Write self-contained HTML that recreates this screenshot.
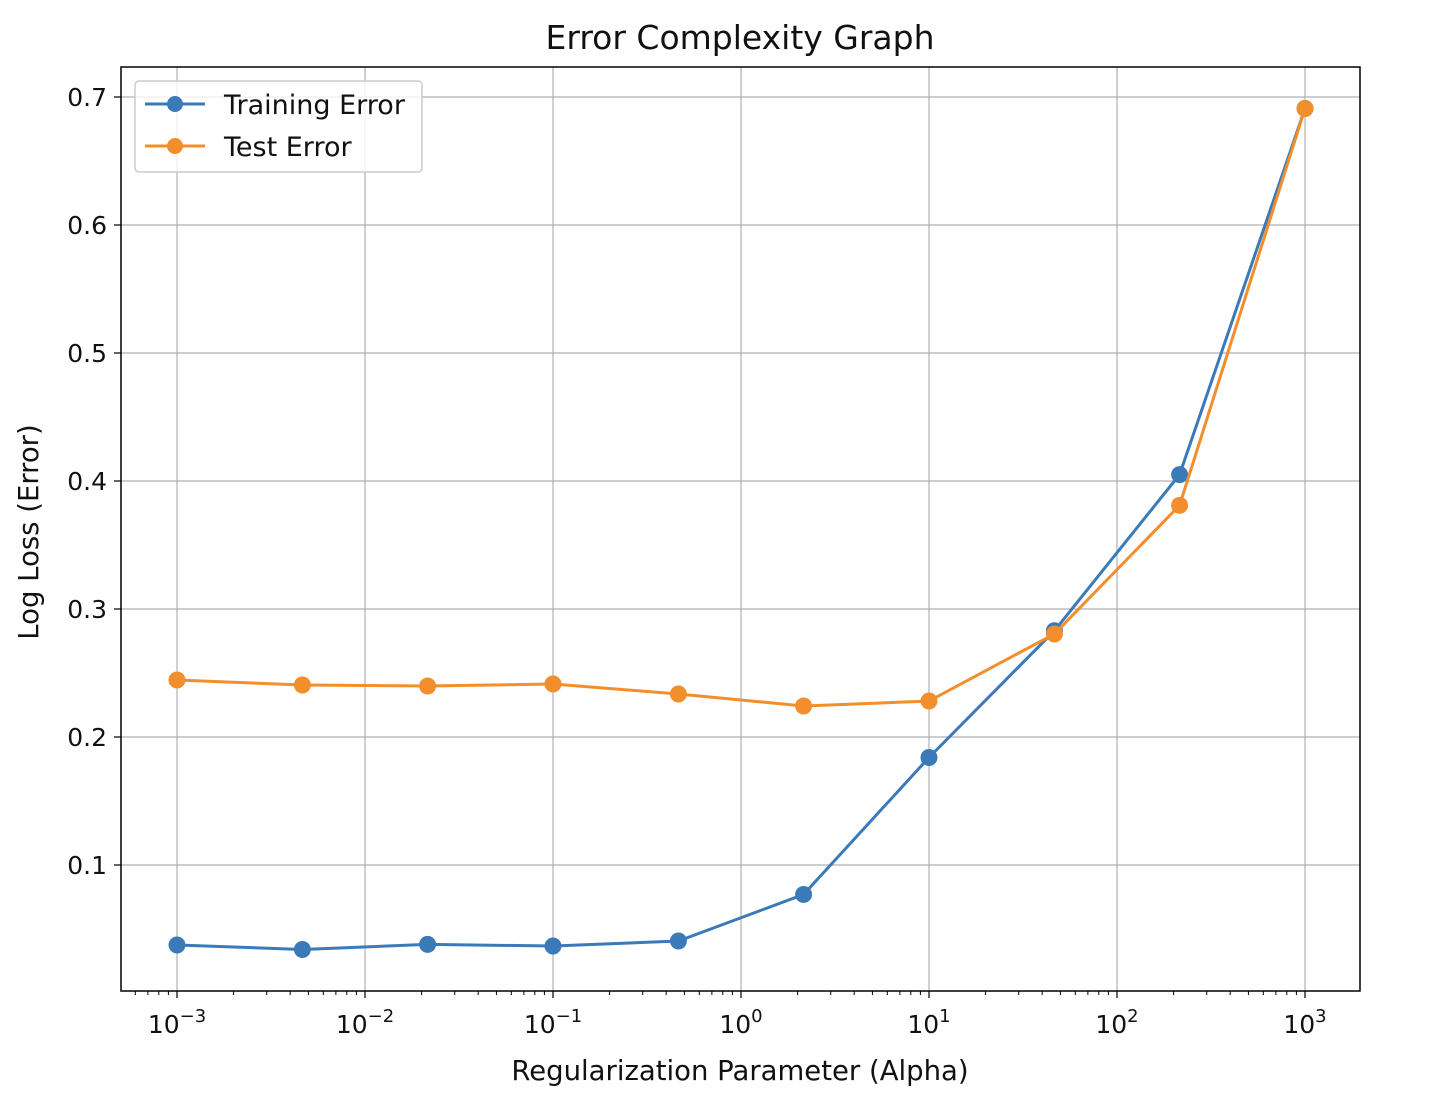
<!DOCTYPE html>
<html><head><meta charset="utf-8"><style>
html,body{margin:0;padding:0;background:#fff;}
svg{display:block;font-family:"DejaVu Sans","Liberation Sans",sans-serif;}
</style></head><body>
<svg id="chart" width="1440" height="1110" viewBox="0 0 1440 1110" xmlns="http://www.w3.org/2000/svg">
<text x="740" y="49" font-size="33" text-anchor="middle" fill="#111">Error Complexity Graph</text>
<text x="740" y="1080" font-size="27.5" text-anchor="middle" fill="#111">Regularization Parameter (Alpha)</text>
<text x="0" y="0" font-size="27.5" text-anchor="middle" fill="#111" transform="translate(38,532) rotate(-90)">Log Loss (Error)</text>
<g id="grid"></g><g id="axes"></g><g id="series"></g>
<rect x="121" y="67" width="1239" height="924" fill="none" stroke="#000" stroke-width="1.5"/>
<g>
<rect x="135" y="81" width="287" height="91" rx="4" fill="#fff" fill-opacity="0.8" stroke="#ccc" stroke-width="1.5"/>
<g>
<line x1="145" y1="104" x2="205" y2="104" stroke="#3a7ab8" stroke-width="3"/><circle cx="175" cy="104" r="8" fill="#3a7ab8"/>
<text x="224" y="114" font-size="27" fill="#111">Training Error</text></g>
<g>
<line x1="145" y1="146" x2="205" y2="146" stroke="#f28e2b" stroke-width="3"/><circle cx="175" cy="146" r="8" fill="#f28e2b"/>
<text x="224" y="156" font-size="27" fill="#111">Test Error</text></g>
</g>
</svg>
<script>
const alphaExponents=[-3,-2.333,-1.667,-1,-0.333,0.333,1,1.667,2.333,3];
const trainingError=[0.0375,0.034,0.038,0.0367,0.0406,0.077,0.184,0.283,0.405,0.691];
const testError=[0.2445,0.2406,0.2398,0.2414,0.2336,0.2242,0.2281,0.2805,0.381,0.691];
const yTicks=[0.1,0.2,0.3,0.4,0.5,0.6,0.7];
const yTickLabels=["0.1","0.2","0.3","0.4","0.5","0.6","0.7"];
const xDecades=[-3,-2,-1,0,1,2,3];
const NS="http://www.w3.org/2000/svg";
const L=121,R=1360,T=67,B=991;
function xs(e){return 741+e*188;}
function ys(v){return 993-v*1280;}
function mk(tag,attrs,parent){const el=document.createElementNS(NS,tag);for(const k in attrs)el.setAttribute(k,attrs[k]);parent.appendChild(el);return el;}
const grid=document.getElementById('grid'),axes=document.getElementById('axes'),series=document.getElementById('series');
yTicks.forEach((v,i)=>{
 const g=mk('line',{x1:L,x2:R,y1:ys(v),y2:ys(v),stroke:'#b0b0b0','stroke-width':1.2},grid);
 
 
 mk('line',{x1:L-7,x2:L,y1:ys(v),y2:ys(v),stroke:'#000','stroke-width':1.2},axes);
 const t=mk('text',{x:L-14,y:ys(v)+9,'font-size':25,'text-anchor':'end',fill:'#111'},axes);
 t.textContent=yTickLabels[i];
 
 
});
xDecades.forEach(d=>{
 const x=xs(d);
 const g=mk('line',{x1:x,x2:x,y1:T,y2:B,stroke:'#b0b0b0','stroke-width':1.2},grid);
 
 
 mk('line',{x1:x,x2:x,y1:B,y2:B+7,stroke:'#000','stroke-width':1.2},axes);
 const t=mk('text',{x:x,y:B+42,'font-size':25,'text-anchor':'middle',fill:'#111'},axes);
 
 
 const a=mk('tspan',{},t);a.textContent='10';
 const s=mk('tspan',{dy:-11,'font-size':18},t);s.textContent=(d<0?'\u2212'+(-d):String(d));
});
for(let d=-4;d<=3;d++){for(let m=2;m<=9;m++){const x=xs(d+Math.log10(m));if(x>L&&x<R)mk('line',{x1:x,x2:x,y1:B,y2:B+4,stroke:'#000','stroke-width':1},axes);}}
function draw(vals,color,name){
 const pts=vals.map((v,i)=>xs(alphaExponents[i])+','+ys(v)).join(' ');
 const pl=mk('polyline',{points:pts,fill:'none',stroke:color,'stroke-width':3},series);
 
 
 vals.forEach((v,i)=>{const c=mk('circle',{cx:xs(alphaExponents[i]),cy:ys(v),r:8.5,fill:color},series);
 
 });
}
draw(trainingError,'#3a7ab8','training-error');
draw(testError,'#f28e2b','test-error');
</script>
</body></html>
